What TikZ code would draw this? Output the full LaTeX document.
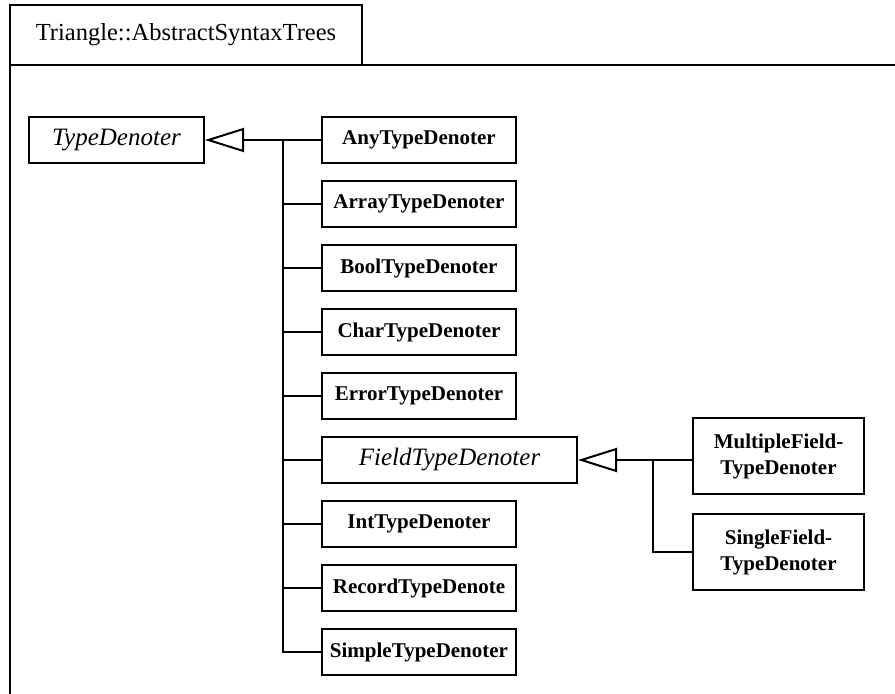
\documentclass[tikz,border=0pt]{standalone}
\usepackage{fontspec}
\setmainfont{Liberation Serif}
\usetikzlibrary{arrows.meta}
\begin{document}
\begin{tikzpicture}[x=1pt,y=-1pt,
  line width=2pt,
  cls/.style={draw,rectangle,inner sep=0pt,minimum height=46pt,font=\bfseries\fontsize{21}{25}\selectfont},
  child/.style={cls,minimum width=194pt},
  abs/.style={draw,rectangle,inner sep=0pt,minimum height=46pt,font=\itshape\fontsize{25}{29}\selectfont},
  big/.style={cls,minimum width=171pt,minimum height=76pt,align=center,font=\bfseries\fontsize{21}{26}\selectfont},
  gen/.style={-{Triangle[open,length=39pt,width=24pt]}},
  tab/.style={draw,rectangle,inner sep=0pt,minimum width=352pt,minimum height=60pt,font=\fontsize{24.5}{28}\selectfont}
]
\useasboundingbox (0,0) rectangle (895,694);
% package frame
\node[tab] (pkg) at (186,35) {Triangle::AbstractSyntaxTrees};
\draw (895,65) -- (10,65) -- (10,694);
% classes
\node[abs,minimum width=175pt] (td) at (116.5,140) {TypeDenoter};
\node[child] (any) at (419,140) {AnyTypeDenoter};
\node[child] (array) at (419,204) {ArrayTypeDenoter};
\node[child] (bool) at (419,268) {BoolTypeDenoter};
\node[child] (char) at (419,332) {CharTypeDenoter};
\node[child] (error) at (419,396) {ErrorTypeDenoter};
\node[abs,minimum width=255pt] (field) at (449.5,460) {FieldTypeDenoter};
\node[child] (int) at (419,524) {IntTypeDenoter};
\node[child] (record) at (419,588) {RecordTypeDenote};
\node[child] (simple) at (419,652) {SimpleTypeDenoter};
\node[big] (multi) at (778.5,456) {MultipleField-\\TypeDenoter};
\node[big] (single) at (778.5,552) {SingleField-\\TypeDenoter};
% generalisation connectors
\coordinate (j1) at (283,140);
\draw[gen] (any.west) -- (td.east);
\foreach \c in {array,bool,char,error,field,int,record,simple}
  \draw (\c.west) -| (j1);
\coordinate (j2) at (653,460);
\draw[gen] (field.east -| multi.west) -- (field.east);
\draw (single.west) -| (j2);
\end{tikzpicture}
\end{document}
